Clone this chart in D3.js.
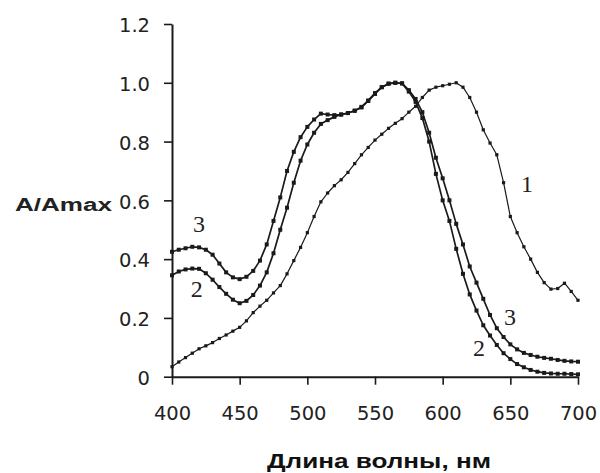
<!DOCTYPE html>
<html>
<head>
<meta charset="utf-8">
<script src="https://cdn.jsdelivr.net/npm/d3@7"></script>
<style>
  html, body { margin: 0; padding: 0; background: #fff; }
  svg { display: block; }
</style>
</head>
<body>
<svg id="chart" width="600" height="473"></svg>
<script>
// ---- DATA ----
const wavelengths = d3.range(400, 701, 5);
const curve1 = [0.034,0.05,0.065,0.08,0.095,0.105,0.116,0.13,0.142,0.155,0.168,0.19,0.218,0.24,0.26,0.285,0.31,0.35,0.395,0.44,0.49,0.545,0.595,0.625,0.65,0.67,0.695,0.725,0.755,0.78,0.805,0.825,0.845,0.862,0.878,0.9,0.92,0.95,0.975,0.985,0.99,0.995,1.0,0.985,0.95,0.9,0.84,0.795,0.755,0.66,0.545,0.49,0.442,0.4,0.355,0.32,0.298,0.3,0.318,0.29,0.26];
const curve2 = [0.345,0.358,0.365,0.368,0.367,0.352,0.33,0.305,0.282,0.262,0.25,0.258,0.278,0.31,0.355,0.42,0.5,0.575,0.66,0.735,0.79,0.83,0.86,0.873,0.884,0.892,0.897,0.905,0.916,0.938,0.962,0.985,0.997,1.0,0.998,0.97,0.935,0.88,0.8,0.69,0.6,0.53,0.435,0.35,0.28,0.225,0.175,0.14,0.108,0.08,0.06,0.043,0.032,0.023,0.017,0.013,0.011,0.01,0.01,0.009,0.008];
const curve3 = [0.425,0.432,0.437,0.442,0.44,0.432,0.415,0.385,0.355,0.338,0.332,0.34,0.36,0.395,0.45,0.53,0.61,0.7,0.765,0.815,0.85,0.875,0.895,0.892,0.89,0.892,0.897,0.905,0.918,0.94,0.965,0.985,0.997,1.0,0.998,0.975,0.945,0.9,0.83,0.745,0.675,0.6,0.52,0.45,0.375,0.32,0.265,0.21,0.165,0.135,0.11,0.093,0.081,0.074,0.068,0.064,0.061,0.057,0.054,0.052,0.051];
const xTicks = [400, 450, 500, 550, 600, 650, 700];
const yTicks = [0, 0.2, 0.4, 0.6, 0.8, 1.0, 1.2];
const yTickLabels = ["0", "0.2", "0.4", "0.6", "0.8", "1.0", "1.2"];
const curveLabels = ["1", "2", "3", "2", "3"];
const curveLabelX = [662.3, 418.3, 420, 626.9, 649.8];
const curveLabelY = [0.629, 0.272, 0.493, 0.070, 0.176];
const xTitle = "Длина волны, нм";
const yTitle = "A/Amax";

// ---- CHART ----
const svg = d3.select("#chart");
const x = d3.scaleLinear().domain([400, 700]).range([172, 578]);
const y = d3.scaleLinear().domain([0, 1.2]).range([376.7, 24]);
const ink = "#1a1a1a";

const series = [
  { values: curve1, width: 1.2, r: 1.6 },
  { values: curve2, width: 1.7, r: 2.0 },
  { values: curve3, width: 1.7, r: 2.0 }
];

const line = d3.line().x(d => x(d[0])).y(d => y(d[1]));

series.forEach(s => {
  const pts = wavelengths.map((w, i) => [w, s.values[i]]);
  svg.append("path")
    .datum(pts)
    .attr("d", line)
    .attr("fill", "none")
    .attr("stroke", ink)
    .attr("stroke-width", s.width)
    .attr("stroke-linejoin", "round");
  svg.append("g").selectAll("rect")
    .data(pts)
    .join("rect")
    .attr("x", d => x(d[0]) - s.r)
    .attr("y", d => y(d[1]) - s.r)
    .attr("width", s.r * 2)
    .attr("height", s.r * 2)
    .attr("fill", ink);
});

// axes
const xAxis = d3.axisBottom(x).tickValues(xTicks).tickSize(8).tickSizeOuter(0).tickPadding(21).tickFormat(d3.format("d"));
const gx = svg.append("g").attr("transform", `translate(0,${y(0)})`).call(xAxis);
const yAxis = d3.axisLeft(y).tickValues(yTicks).tickSize(8).tickSizeOuter(0).tickPadding(14)
  .tickFormat((d, i) => yTickLabels[i]);
const gy = svg.append("g").attr("transform", `translate(${x(400)},0)`).call(yAxis);

[gx, gy].forEach(g => {
  g.select(".domain").attr("stroke", ink).attr("stroke-width", 2);
  g.selectAll(".tick line").attr("stroke", ink).attr("stroke-width", 1.6);
  g.selectAll(".tick text")
    .attr("fill", "#222")
    .attr("font-family", "'DejaVu Sans', sans-serif")
    .attr("font-size", 19.5);
});
gy.selectAll(".tick text").attr("dy", "0.4em");

// curve labels
svg.append("g").selectAll("text")
  .data(curveLabels)
  .join("text")
  .attr("x", (d, i) => x(curveLabelX[i]))
  .attr("y", (d, i) => y(curveLabelY[i]))
  .attr("text-anchor", "middle")
  .attr("font-family", "'Liberation Serif', 'Times New Roman', serif")
  .attr("font-size", 24)
  .attr("fill", "#222")
  .text(d => d);

// titles
svg.append("text")
  .attr("x", 15).attr("y", 211)
  .attr("font-family", "'Liberation Sans', Arial, sans-serif")
  .attr("font-weight", "bold")
  .attr("font-size", 18)
  .attr("fill", "#222")
  .attr("textLength", 97)
  .attr("lengthAdjust", "spacingAndGlyphs")
  .text(yTitle);

svg.append("text")
  .attr("x", 379).attr("y", 468)
  .attr("text-anchor", "middle")
  .attr("font-family", "'Liberation Sans', Arial, sans-serif")
  .attr("font-weight", "bold")
  .attr("font-size", 21)
  .attr("fill", "#111")
  .attr("textLength", 224)
  .attr("lengthAdjust", "spacingAndGlyphs")
  .text(xTitle);
</script>
</body>
</html>
